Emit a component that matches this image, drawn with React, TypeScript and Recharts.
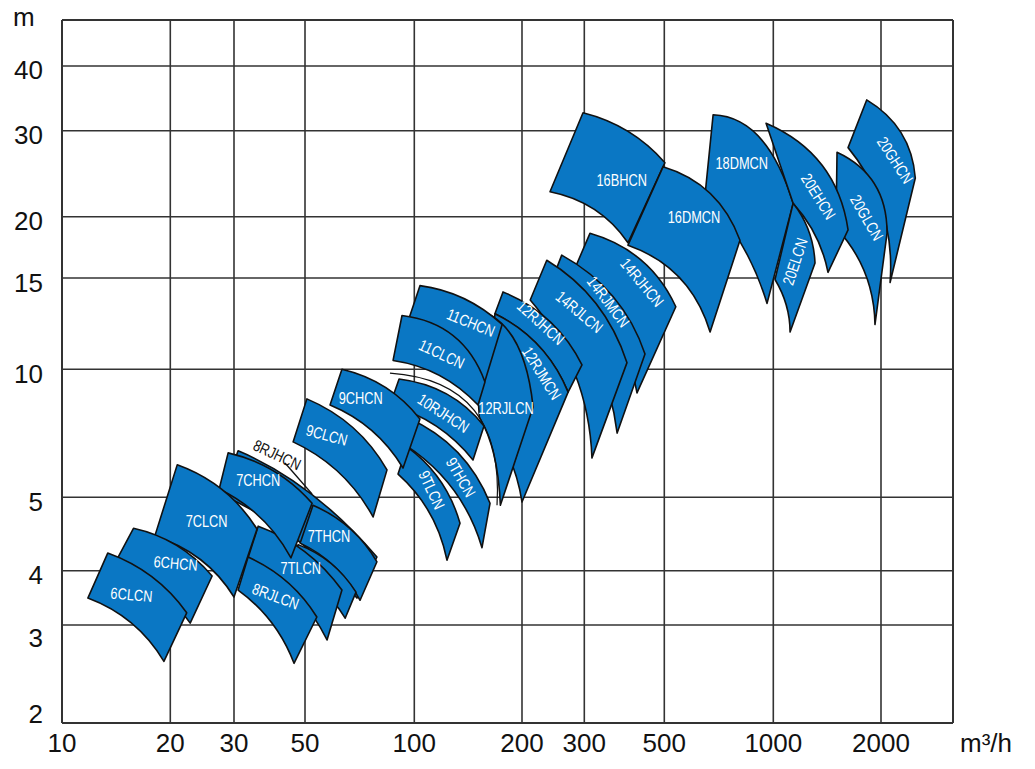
import React from 'react';
import { ScatterChart, Scatter, XAxis, YAxis, CartesianGrid, ReferenceLine } from 'recharts';

// ---- axes (the printed grid is a hand-drawn, not perfectly even, log grid) ----
const FLOW_TICKS = [10, 20, 30, 50, 100, 200, 300, 500, 1000, 2000];
const HEAD_TICKS = [2, 3, 4, 5, 10, 15, 20, 30, 40];
const FLOW_STOPS = [10, 20, 30, 50, 100, 200, 300, 500, 1000, 2000, 3162];
const FLOW_STOP_AT = [0, 0.12155, 0.19304, 0.27273, 0.3954, 0.51627, 0.5862, 0.67598, 0.79832, 0.91919, 1];
const HEAD_STOPS = [2, 3, 4, 5, 10, 15, 20, 30, 40, 49.1];
const HEAD_STOP_AT = [0, 0.1394, 0.21664, 0.32105, 0.50313, 0.633, 0.7202, 0.84253, 0.93457, 1];

// ---- pump ranges, drawn back to front ----
// each range: [top-left, top-mid, top-right, bottom-right, bottom-mid, bottom-left]
const PUMP_NAMES = [
  '20GHCN', '20GLCN', '18DMCN', '20EHCN', '20ELCN', '16BHCN', '16DMCN',
  '14RJHCN', '14RJMCN', '14RJLCN', '12RJHCN', '12RJMCN', '12RJLCN',
  '11CHCN', '11CLCN', '9THCN', '9TLCN', '10RJHCN', '9CHCN', '9CLCN',
  '8RJHCN', '7THCN', '7TMCN', '7TLCN', '8RJLCN', '7CHCN', '7CLCN', '6CHCN', '6CLCN',
];
const PUMP_FLOW: number[][] = [
  [1824, 2274, 2488, 2119, 2018, 1618],
  [1507, 1921, 2078, 1924, 1802, 1497],
  [682, 919, 1136, 961, 820, 648],
  [955, 1368, 1618, 1422, 1312, 1136],
  [1136, 1256, 1308, 1114, 1087, 1011],
  [297.5, 397, 502, 396.5, 320, 240],
  [496, 670, 809, 669, 552, 396.5],
  [311, 432, 538, 420, 365, 277],
  [259, 361, 442, 370, 321, 237],
  [235, 323, 394, 315, 282, 211],
  [177, 239, 295.5, 270, 223, 168],
  [168, 223, 270, 200, 184, 158],
  [145, 189, 215, 174, 167, 152],
  [103.7, 137.4, 176, 157.6, 125.3, 94.3],
  [92.5, 128.7, 157.6, 150.7, 117.4, 87.4],
  [96.1, 132.1, 162.8, 154.6, 128.4, 94.3],
  [95.5, 118, 134.2, 123.4, 110.3, 90.2],
  [90.8, 123.2, 156.6, 145.9, 114.9, 85.7],
  [63.2, 83.2, 103.7, 93.1, 76.3, 58.6],
  [50.6, 67.8, 84.1, 77.0, 62.1, 45.9],
  [30.9, 51.6, 78.9, 69.5, 46.7, 27.8],
  [52.6, 66.4, 78.9, 70.9, 60.4, 48.3],
  [47.6, 58.9, 69.1, 64.5, 55.2, 44.2],
  [35.7, 49.9, 63.2, 57.5, 46.2, 33.2],
  [33.2, 44.0, 53.9, 46.2, 39.3, 30.9],
  [28.9, 40.0, 52.3, 45.2, 36.3, 27.3],
  [20.9, 27.9, 35.4, 30.0, 24.2, 18.1],
  [15.8, 20.8, 26.1, 22.7, 18.3, 13.9],
  [13.4, 17.8, 22.2, 19.2, 15.6, 11.8],
];
const PUMP_HEAD: number[][] = [
  [34.4, 29.7, 24.0, 14.7, 20.6, 27.7],
  [27.1, 23.3, 18.5, 12.2, 15.4, 19.0],
  [32.2, 29.0, 21.3, 13.4, 17.5, 22.2],
  [31.0, 25.5, 18.8, 15.4, 18.3, 21.3],
  [21.3, 18.7, 16.1, 11.8, 13.3, 14.9],
  [32.5, 29.9, 25.8, 17.7, 20.7, 22.5],
  [25.3, 22.3, 17.9, 11.8, 15.0, 17.5],
  [18.5, 16.3, 13.2, 8.8, 12.0, 15.2],
  [16.7, 13.8, 10.7, 7.08, 10.6, 14.2],
  [16.3, 13.4, 10.3, 6.19, 9.78, 13.6],
  [14.1, 12.4, 10.2, 8.84, 11.1, 12.8],
  [12.8, 11.1, 8.84, 4.93, 6.22, 7.6],
  [13.1, 11.5, 8.15, 4.88, 6.29, 7.72],
  [14.5, 13.7, 12.2, 9.39, 10.95, 11.9],
  [12.7, 11.6, 9.34, 8.24, 9.68, 10.4],
  [7.68, 6.38, 4.91, 4.29, 5.22, 6.64],
  [6.57, 5.48, 4.62, 4.13, 4.77, 5.67],
  [9.49, 8.75, 7.36, 6.12, 7.36, 8.24],
  [10.0, 9.07, 7.64, 5.86, 7.18, 8.24],
  [8.52, 7.29, 5.8, 4.71, 5.71, 6.75],
  [6.43, 5.12, 4.17, 3.46, 4.41, 5.06],
  [4.88, 4.55, 4.11, 3.42, 4.05, 4.35],
  [4.33, 4.09, 3.57, 3.11, 3.64, 4.03],
  [4.58, 4.24, 3.61, 2.82, 3.56, 4.16],
  [4.17, 3.77, 3.13, 2.56, 3.04, 3.61],
  [6.36, 5.76, 4.91, 4.16, 4.7, 5.23],
  [5.96, 5.2, 4.54, 3.48, 4.14, 4.44],
  [4.55, 4.32, 3.89, 3.03, 3.65, 4.06],
  [4.22, 3.87, 3.2, 2.58, 3.03, 3.46],
];

// lower boundary line of 12RJLCN running through the gap
const ARC_FLOW = [85.7, 146.9, 170.3];
const ARC_HEAD = [9.8, 8.02, 4.88];
// leader line of the 8RJHCN callout
const LEADER_FLOW = [43.3, 52.3];
const LEADER_HEAD = [6.02, 5.09];

// ---- labels ----
const LABEL_NAMES = [
  '6CLCN', '6CHCN', '7CLCN', '7CHCN', '7THCN', '7TLCN', '8RJLCN', '9CLCN', '9CHCN',
  '10RJHCN', '9TLCN', '9THCN', '11CLCN', '11CHCN', '12RJLCN', '12RJMCN', '12RJHCN',
  '14RJLCN', '14RJMCN', '14RJHCN', '16BHCN', '16DMCN', '18DMCN', '20EHCN', '20ELCN',
  '20GLCN', '20GHCN', '8RJHCN',
];
const LABEL_FLOW = [
  15.6, 20.7, 25.2, 35.7, 58.2, 48.5, 40.5, 57.4, 71.2,
  120.5, 111.8, 134.8, 119.3, 143.8, 180.4, 227.3, 225.9,
  290.4, 349.6, 433.6, 380.9, 603.9, 818, 1336, 1150,
  1824, 2188, 40.9,
];
const LABEL_HEAD = [
  3.52, 4.09, 4.64, 5.49, 4.44, 4.03, 3.49, 7.0, 8.55,
  7.88, 5.2, 5.57, 10.7, 12.3, 8.11, 9.79, 12.3,
  12.9, 13.5, 14.7, 23.7, 19.9, 25.7, 22.0, 16.2,
  19.9, 26.1, 6.29,
];
const LABEL_ANGLE = [
  5, 5, 0, 0, 0, 0, 20, 15, 0,
  33, 65, 60, 25, 22, 0, 58, 42,
  40, 53, 50, 0, 0, 0, 58, -72,
  60, 57, 25,
];
const OUTSIDE_LABELS = ['8RJHCN'];

// ---- styling ----
const BLUE = '#0a77c4';
const GRID = '#333333';
const FONT = "'Liberation Sans', Arial, Helvetica, sans-serif";

function warp(v: number, stops: number[], at: number[]) {
  const n = stops.length;
  let i = 0;
  while (i < n - 2 && v > stops[i + 1]) i++;
  const t = Math.log(v / stops[i]) / Math.log(stops[i + 1] / stops[i]);
  return at[i] + t * (at[i + 1] - at[i]);
}
const wx = (v: number) => warp(v, FLOW_STOPS, FLOW_STOP_AT);
const wy = (v: number) => warp(v, HEAD_STOPS, HEAD_STOP_AT);

const toPoints = (flows: number[], heads: number[]) =>
  flows.map((f, i) => ({ x: wx(f), y: wy(heads[i]) }));

const PUMPS = PUMP_NAMES.map((name, i) => ({ name, points: toPoints(PUMP_FLOW[i], PUMP_HEAD[i]) }));
const ARC = toPoints(ARC_FLOW, ARC_HEAD);
const LEADER = toPoints(LEADER_FLOW, LEADER_HEAD);
const LABELS = LABEL_NAMES.map((name, i) => ({
  name,
  x: wx(LABEL_FLOW[i]),
  y: wy(LABEL_HEAD[i]),
  angle: LABEL_ANGLE[i],
  dark: OUTSIDE_LABELS.includes(name),
}));

const X_TICK_AT = FLOW_TICKS.map(wx);
const Y_TICK_AT = HEAD_TICKS.map(wy);

const ctrl = (a: any, m: any, b: any) => ({ x: 2 * m.x - (a.x + b.x) / 2, y: 2 * m.y - (a.y + b.y) / 2 });

const drawRange = (props: any) => {
  const p = props.points;
  if (!p || p.length < 6) return <g />;
  const c1 = ctrl(p[0], p[1], p[2]);
  const c2 = ctrl(p[3], p[4], p[5]);
  const d =
    `M${p[0].x},${p[0].y} Q${c1.x},${c1.y} ${p[2].x},${p[2].y} ` +
    `L${p[3].x},${p[3].y} Q${c2.x},${c2.y} ${p[5].x},${p[5].y} Z`;
  return <path d={d} fill={BLUE} stroke="#111" strokeWidth={1.6} strokeLinejoin="round" />;
};

const drawArc = (props: any) => {
  const p = props.points;
  if (!p || p.length < 3) return <g />;
  const c = ctrl(p[0], p[1], p[2]);
  return <path d={`M${p[0].x},${p[0].y} Q${c.x},${c.y} ${p[2].x},${p[2].y}`} fill="none" stroke="#111" strokeWidth={1.2} />;
};

const drawLeader = (props: any) => {
  const p = props.points;
  if (!p || p.length < 2) return <g />;
  return <path d={`M${p[0].x},${p[0].y} L${p[1].x},${p[1].y}`} fill="none" stroke="#111" strokeWidth={1.3} />;
};

const noDot = () => <g />;

const drawLabel = (props: any) => {
  const { cx, cy, payload } = props;
  if (cx == null || cy == null || !payload) return <g />;
  return (
    <text
      transform={`translate(${cx},${cy}) rotate(${payload.angle}) scale(0.8,1)`}
      textAnchor="middle"
      dominantBaseline="central"
      fill={payload.dark ? '#111' : '#ffffff'}
      fontSize={16}
      fontFamily={FONT}
    >
      {payload.name}
    </text>
  );
};

const renderXTick = (props: any) => {
  const { x, y, payload } = props;
  const i = X_TICK_AT.findIndex((t) => Math.abs(t - payload.value) < 1e-6);
  if (i < 0) return <g />;
  return (
    <text x={x} y={y + 29} textAnchor="middle" fontSize={26} fontFamily={FONT} fill="#111">
      {FLOW_TICKS[i]}
    </text>
  );
};

const HEAD_LABEL_NUDGE: Record<number, number> = { 3: 8, 2: -13.5 };
const renderYTick = (props: any) => {
  const { x, y, payload } = props;
  const i = Y_TICK_AT.findIndex((t) => Math.abs(t - payload.value) < 1e-6);
  if (i < 0) return <g />;
  const v = HEAD_TICKS[i];
  return (
    <text x={x - 19} y={y + 13.5 + (HEAD_LABEL_NUDGE[v] || 0)} textAnchor="end" fontSize={26} fontFamily={FONT} fill="#111">
      {v}
    </text>
  );
};

export default function App() {
  return (
    <div style={{ position: 'absolute', left: 0, top: 0, width: 1035, height: 769, background: '#fff' }}>
      <ScatterChart width={1035} height={769} margin={{ top: 20, right: 82, bottom: 6, left: 10 }}>
        <CartesianGrid stroke={GRID} strokeWidth={1.6} />
        <XAxis
          type="number"
          dataKey="x"
          domain={[0, 1]}
          ticks={X_TICK_AT}
          interval={0}
          allowDataOverflow
          height={40}
          tickSize={0}
          tickMargin={0}
          tickLine={false}
          axisLine={{ stroke: GRID, strokeWidth: 2 }}
          tick={renderXTick}
        />
        <YAxis
          type="number"
          dataKey="y"
          domain={[0, 1]}
          ticks={Y_TICK_AT}
          interval={0}
          allowDataOverflow
          width={52}
          tickSize={0}
          tickMargin={0}
          tickLine={false}
          axisLine={{ stroke: GRID, strokeWidth: 2 }}
          tick={renderYTick}
        />
        <ReferenceLine x={1} stroke={GRID} strokeWidth={2} />
        <ReferenceLine y={1} stroke={GRID} strokeWidth={2} />
        {PUMPS.map((pump, i) =>
          pump.name === '11CHCN' ? (
            <React.Fragment key={pump.name}>
              <Scatter name="arc" data={ARC} line={drawArc} shape={noDot} isAnimationActive={false} />
              <Scatter name={pump.name} data={pump.points} line={drawRange} shape={noDot} isAnimationActive={false} />
            </React.Fragment>
          ) : (
            <Scatter key={pump.name + i} name={pump.name} data={pump.points} line={drawRange} shape={noDot} isAnimationActive={false} />
          )
        )}
        <Scatter name="leader" data={LEADER} line={drawLeader} shape={noDot} isAnimationActive={false} />
        <Scatter name="labels" data={LABELS} shape={drawLabel} isAnimationActive={false} />
      </ScatterChart>
      <svg width={1035} height={769} style={{ position: 'absolute', left: 0, top: 0, pointerEvents: 'none' }}>
        <text x={13} y={26} fontSize={26} fontFamily={FONT} fill="#111">m</text>
        <text x={960} y={752} fontSize={26} fontFamily={FONT} fill="#111">m³/h</text>
      </svg>
    </div>
  );
}
